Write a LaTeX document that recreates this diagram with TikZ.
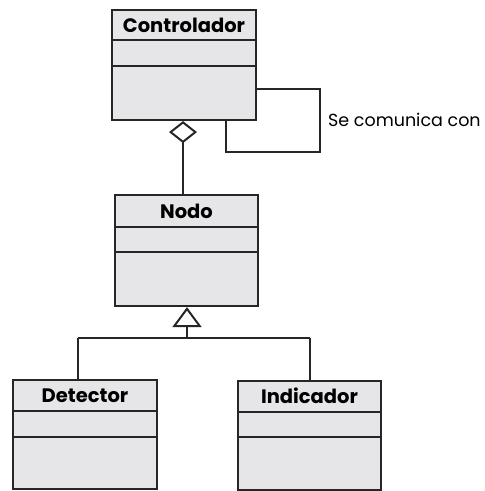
\documentclass[tikz,border=0pt]{standalone}
\usepackage{fontspec}
\setmainfont{Poppins}
\usetikzlibrary{arrows.meta}
\definecolor{boxgray}{RGB}{230,230,232}
\tikzset{
  x=1pt,y=1pt,
  umlbox/.style={draw=black!85,fill=boxgray,line width=2.2pt,inner sep=0pt},
  sepline/.style={draw=black!85,line width=2.2pt},
  conn/.style={draw=black!85,line width=2.2pt},
  umltitle/.style={font=\bfseries\fontsize{19.5}{22}\selectfont,inner sep=0pt},
}
\begin{document}
\begin{tikzpicture}
\useasboundingbox (0,0) rectangle (485,491);
% Controlador
\node[umlbox,minimum width=144pt,minimum height=110pt] (ctrl) at (184,426) {};
\draw[sepline] (112,451) -- (256,451);
\draw[sepline] (112,425) -- (256,425);
\node[umltitle] (ctrlt) at (184,466) {Controlador};
% Nodo
\node[umlbox,minimum width=143pt,minimum height=111pt] (nodo) at (186.5,240.5) {};
\draw[sepline] (115,264) -- (258,264);
\draw[sepline] (115,239) -- (258,239);
\node[umltitle] (nodot) at (186.5,280) {Nodo};
% Detector
\node[umlbox,minimum width=144pt,minimum height=109pt] (det) at (85,56.5) {};
\draw[sepline] (13,80) -- (157,80);
\draw[sepline] (13,54) -- (157,54);
\node[umltitle] (dett) at (85,95.5) {Detector};
% Indicador
\node[umlbox,minimum width=143pt,minimum height=109pt] (ind) at (309.5,55.5) {};
\draw[sepline] (238,79) -- (381,79);
\draw[sepline] (238,54) -- (381,54);
\node[umltitle] (indt) at (309.5,95) {Indicador};
% aggregation
\draw[conn,-{Diamond[open,length=22pt,width=28pt,line width=2pt]}] (nodo.north -| 183,0) -- (ctrl.south -| 183,0);
% self association
\coordinate (s1) at (320,402);
\coordinate (s2) at (320,339);
\coordinate (s3) at (226,339);
\draw[conn] (ctrl.east |- 0,402) -- (s1) -- (s2) -- (s3) -- (ctrl.south -| 226,0);
\node[anchor=west,inner sep=0pt,font=\fontsize{17.5}{20}\selectfont] (lbl) at (328,371) {Se comunica con};
% inheritance
\coordinate (j) at (187,153);
\coordinate (jl) at (78,153);
\coordinate (jr) at (310,153);
\draw[conn] (jl) -- (jr);
\draw[conn] (jl) -- (det.north -| jl);
\draw[conn] (jr) -- (ind.north -| jr);
\draw[conn,-{Triangle[open,length=20pt,width=29pt,line width=2pt]}] (j) -- (nodo.south -| j);
\end{tikzpicture}
\end{document}
